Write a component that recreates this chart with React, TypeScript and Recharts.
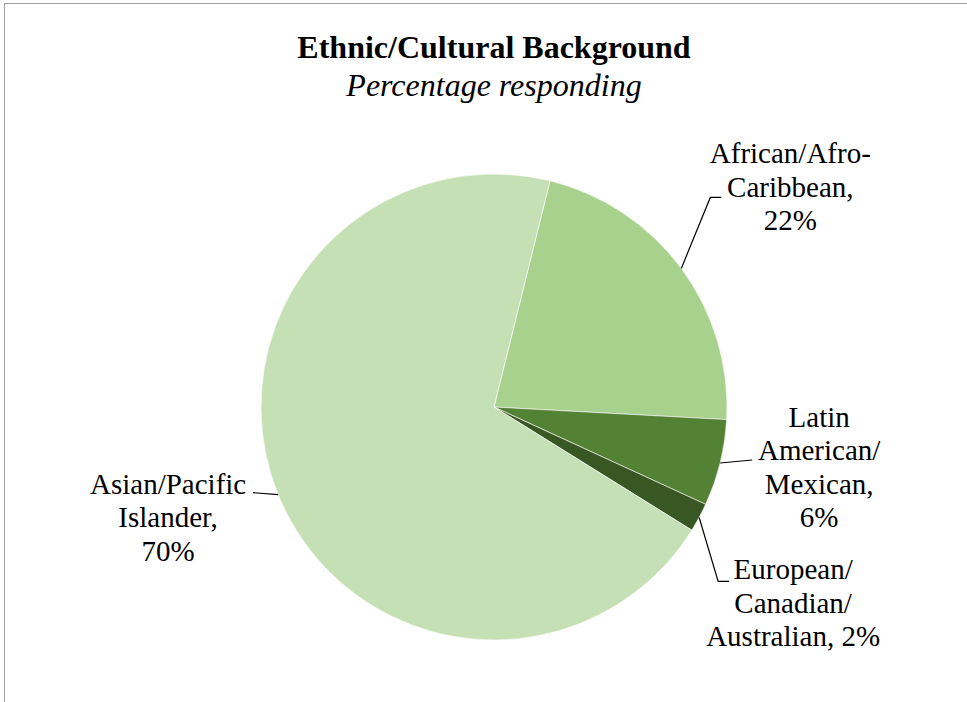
import React from 'react'
import { PieChart, Pie, Cell } from 'recharts'

const CATEGORIES = ['African/Afro-Caribbean', 'Latin American/Mexican', 'European/Canadian/Australian', 'Asian/Pacific Islander']
const PERCENTS = [22, 6, 2, 70]
const LABEL_LINES = [
  ['African/Afro-', 'Caribbean,', '22%'],
  ['Latin', 'American/', 'Mexican,', '6%'],
  ['European/', 'Canadian/', 'Australian, 2%'],
  ['Asian/Pacific', 'Islander,', '70%']
]
const COLORS = ['#a9d18e', '#548235', '#385723', '#c5e0b4']

// leader line / text placement relative to the slice edge point
const LABEL_LAYOUT = [
  { elbow: [29, -71], tail: 11, textDx: 69, firstDy: -34 },
  { elbow: [32, -3], tail: 0, textDx: 67, firstDy: -33 },
  { elbow: [19, 64], tail: 11, textDx: 64, firstDy: -2 },
  { elbow: [-25, -2], tail: 0, textDx: -85, firstDy: 1 }
]

const data = CATEGORIES.map((name, i) => ({ name, value: PERCENTS[i] }))

const RAD = Math.PI / 180
const FONT = "'Liberation Serif', Tinos, 'DejaVu Serif', serif"
const LINE_STEP = 33.5

const renderLabel = (props: any) => {
  const { cx, cy, midAngle, outerRadius, index } = props
  const ex = cx + outerRadius * Math.cos(-midAngle * RAD)
  const ey = cy + outerRadius * Math.sin(-midAngle * RAD)
  const lay = LABEL_LAYOUT[index]
  const bx = ex + lay.elbow[0]
  const by = ey + lay.elbow[1]
  const dir = lay.elbow[0] >= 0 ? 1 : -1
  const tx = bx + dir * lay.tail
  const textX = tx + lay.textDx
  const lines = LABEL_LINES[index]
  return (
    <g key={`lbl-${index}`}>
      <polyline
        points={`${ex},${ey} ${bx},${by} ${tx},${by}`}
        fill="none"
        stroke="#000"
        strokeWidth={1.2}
      />
      <text x={textX} y={by + lay.firstDy} textAnchor="middle" style={{ fontFamily: FONT, fontSize: 29 }} fill="#000">
        {lines.map((ln, i) => (
          <tspan key={i} x={textX} dy={i === 0 ? 0 : LINE_STEP}>
            {ln}
          </tspan>
        ))}
      </text>
    </g>
  )
}

export default function App() {
  return (
    <div style={{ position: 'absolute', left: 0, top: 0, width: 967, height: 702, background: '#fff' }}>
      <div
        style={{
          position: 'absolute',
          left: 4,
          top: 3,
          width: 963,
          height: 699,
          borderLeft: '1px solid #a0a0a0',
          borderTop: '1px solid #a0a0a0',
          boxSizing: 'border-box'
        }}
      />
      <div style={{ position: 'absolute', left: 0, top: 0 }}>
        <PieChart width={967} height={702} margin={{ top: 0, right: 0, bottom: 0, left: 0 }}>
          <Pie
            data={data}
            dataKey="value"
            nameKey="name"
            cx={494}
            cy={407}
            outerRadius={233}
            startAngle={76.1}
            endAngle={-283.9}
            stroke="#ffffff"
            strokeWidth={0.6}
            label={renderLabel}
            labelLine={false}
            isAnimationActive={false}
          >
            {data.map((d, i) => (
              <Cell key={d.name} fill={COLORS[i]} />
            ))}
          </Pie>
        </PieChart>
      </div>
      <svg width={967} height={702} style={{ position: 'absolute', left: 0, top: 0, pointerEvents: 'none' }}>
        <text x={494} y={58} textAnchor="middle" style={{ fontFamily: FONT, fontWeight: 'bold', fontSize: 32 }} fill="#000">
          Ethnic/Cultural Background
        </text>
        <text x={494} y={96} textAnchor="middle" style={{ fontFamily: FONT, fontStyle: 'italic', fontSize: 32 }} fill="#000">
          Percentage responding
        </text>
      </svg>
    </div>
  )
}
